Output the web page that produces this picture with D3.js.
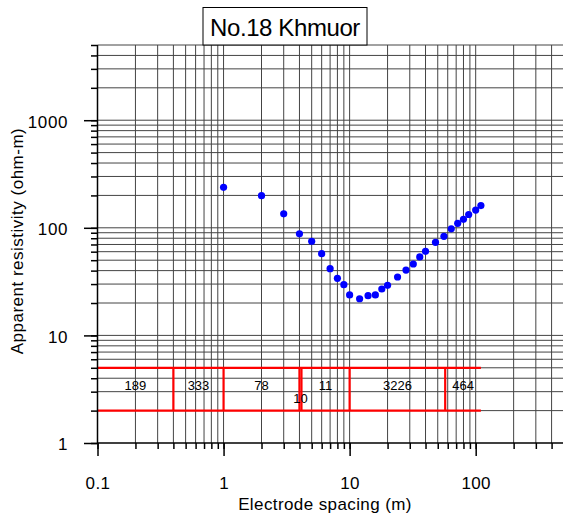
<!DOCTYPE html>
<html>
<head>
<meta charset="utf-8">
<script src="https://cdn.jsdelivr.net/npm/d3@7"></script>
<style>
  html, body { margin: 0; padding: 0; background: #fff; }
  svg { display: block; font-family: "Liberation Sans", Arial, sans-serif; }
</style>
</head>
<body>
<svg id="chart" width="563" height="519"></svg>
<script>
// Sounding No.18 (Khmuor): apparent resistivity vs. electrode spacing
const spacing = [1, 2, 3, 4, 5, 6, 7, 8, 9, 10, 12, 14, 16, 18, 20, 24, 28, 32, 36, 40, 48, 56, 64, 72, 80, 88, 100, 110];
const rhoApparent = [238, 199, 135, 88, 75, 57.5, 41.7, 33.9, 29.6, 23.8, 21.9, 23.4, 23.8, 27.0, 29.2, 34.9, 40.5, 46.1, 53.6, 60.4, 73.3, 83.4, 97.8, 110, 120, 133, 146, 161];

// Interpreted layered model: layer resistivities and boundary depths (m)
const layerRho = [189, 333, 78, 10, 11, 3226, 464];
const layerDepth = [0.4, 1.0, 4.0, 4.15, 10, 57.3];
const modelExtent = [0.1, 110];
const modelBand = [2, 5];

// Axis domains and labelled decades
const xDomain = [0.1, 500];
const yDomain = [1, 5000];
const xTickLabels = ["0.1", "1", "10", "100"];
const yTickLabels = ["1", "10", "100", "1000"];

const title = "No.18 Khmuor";
const xTitle = "Electrode spacing (m)";
const yTitle = "Apparent resistivity (ohm-m)";

const svg = d3.select("#chart");
const plotLeft = 97.5, plotRight = 563.8, plotTop = 45, plotBottom = 443;

const x = d3.scaleLog().domain(xDomain).range([plotLeft, plotRight]);
const y = d3.scaleLog().domain(yDomain).range([plotBottom, plotTop]);

const xAll = x.ticks();
const yAll = y.ticks();
const xMajor = xTickLabels.map(Number);
const yMajor = yTickLabels.map(Number);

// Grid
const grid = svg.append("g").attr("stroke", "#444").attr("stroke-width", 1);
grid.selectAll("line.v").data(xAll.filter(v => v > xDomain[0])).join("line")
  .attr("class", "v")
  .attr("x1", d => x(d)).attr("x2", d => x(d))
  .attr("y1", plotTop).attr("y2", plotBottom);
grid.selectAll("line.h").data(yAll.filter(v => v > yDomain[0])).join("line")
  .attr("class", "h")
  .attr("x1", plotLeft).attr("x2", plotRight)
  .attr("y1", d => y(d)).attr("y2", d => y(d));

// Layered model
const model = svg.append("g").attr("stroke", "#ff0000").attr("stroke-width", 2.2).attr("fill", "none");
modelBand.forEach(r => {
  model.append("line")
    .attr("x1", x(modelExtent[0])).attr("x2", x(modelExtent[1]))
    .attr("y1", y(r)).attr("y2", y(r));
});
model.selectAll("line.b").data(layerDepth).join("line")
  .attr("class", "b")
  .attr("x1", d => x(d)).attr("x2", d => x(d))
  .attr("y1", y(modelBand[1])).attr("y2", y(modelBand[0]));

const bounds = [modelExtent[0], ...layerDepth, modelExtent[1]];
const midRho = Math.sqrt(modelBand[0] * modelBand[1]);
svg.append("g").attr("font-size", 13).attr("text-anchor", "middle").attr("fill", "#000")
  .selectAll("text").data(layerRho).join("text")
  .attr("x", (d, i) => x(Math.sqrt(bounds[i] * bounds[i + 1])))
  .attr("y", (d, i) => {
    const w = x(bounds[i + 1]) - x(bounds[i]);
    return y(midRho) + 1 + (w < 15 ? 13 : 0);
  })
  .text(d => d);

// Observed points
svg.append("g").selectAll("circle").data(spacing).join("circle")
  .attr("cx", d => x(d))
  .attr("cy", (d, i) => y(rhoApparent[i]))
  .attr("r", 3.6)
  .attr("fill", "#0000ff");

// Axes
function styleAxis(g) {
  g.selectAll("line").attr("stroke", "#000").attr("stroke-width", 1.5);
  g.select(".domain").remove();
}
svg.append("g").attr("transform", `translate(0,${plotBottom})`)
  .call(d3.axisBottom(x).tickValues(xAll).tickSize(6).tickFormat(""))
  .call(styleAxis);
svg.append("g").attr("transform", `translate(0,${plotBottom})`)
  .call(d3.axisBottom(x).tickValues(xMajor).tickSize(13).tickPadding(21)
    .tickFormat((d, i) => xTickLabels[i]))
  .call(styleAxis)
  .call(g => g.selectAll("text").attr("font-size", 17).attr("fill", "#000")
    .attr("font-family", "Liberation Sans, Arial, sans-serif").style("letter-spacing", "0.4px"));

svg.append("g").attr("transform", `translate(${plotLeft},0)`)
  .call(d3.axisLeft(y).tickValues(yAll).tickSize(6.5).tickFormat(""))
  .call(styleAxis);
svg.append("g").attr("transform", `translate(${plotLeft},0)`)
  .call(d3.axisLeft(y).tickValues(yMajor).tickSize(13.5).tickPadding(16)
    .tickFormat((d, i) => yTickLabels[i]))
  .call(styleAxis)
  .call(g => g.selectAll("text").attr("font-size", 17).attr("fill", "#000").attr("dy", "0.4em")
    .attr("font-family", "Liberation Sans, Arial, sans-serif").style("letter-spacing", "0.6px"));

// Axis lines
svg.append("line").attr("x1", plotLeft).attr("x2", plotRight).attr("y1", plotBottom).attr("y2", plotBottom)
  .attr("stroke", "#000").attr("stroke-width", 1.5);
svg.append("line").attr("x1", plotLeft).attr("x2", plotLeft).attr("y1", plotTop).attr("y2", plotBottom)
  .attr("stroke", "#000").attr("stroke-width", 1.5);

// Axis titles
svg.append("text").attr("x", 325).attr("y", 510).attr("text-anchor", "middle")
  .attr("font-size", 17).style("letter-spacing", "0.4px").text(xTitle);
svg.append("text").attr("transform", "translate(23,241) rotate(-90)").attr("text-anchor", "middle")
  .attr("font-size", 17).style("letter-spacing", "0.5px").text(yTitle);

// Title box
svg.append("rect").attr("x", 203).attr("y", 7.5).attr("width", 164).attr("height", 37.5)
  .attr("fill", "#fff").attr("stroke", "#000").attr("stroke-width", 1);
svg.append("text").attr("x", 285).attr("y", 36).attr("text-anchor", "middle")
  .attr("font-size", 24).style("letter-spacing", "-0.4px").text(title);
</script>
</body>
</html>
